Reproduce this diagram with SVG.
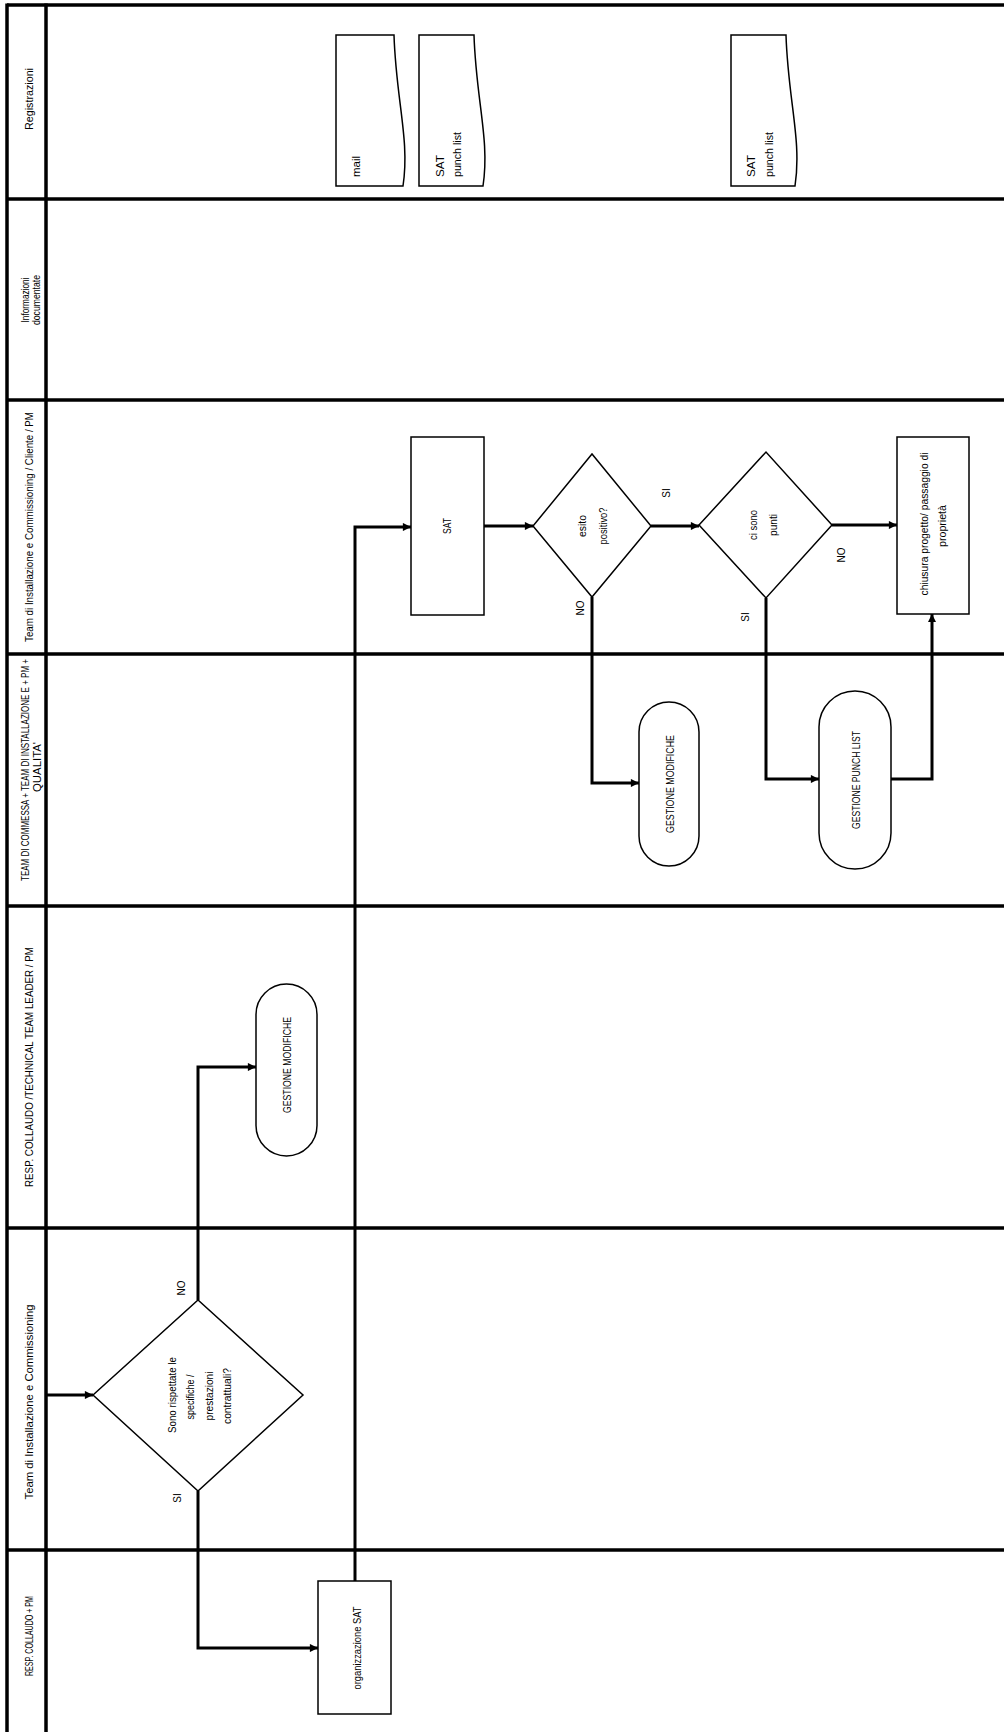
<svg xmlns="http://www.w3.org/2000/svg" width="1004" height="1732" viewBox="0 0 1004 1732">
<style>
text{font-family:"Liberation Sans",Arial,sans-serif;fill:#000;dominant-baseline:central}
.hd{font-size:10.5px;text-anchor:middle}
.nt{font-size:11px;text-anchor:middle}
.dt{font-size:11px;text-anchor:start}
.lb{font-size:10px;text-anchor:middle}
.lane{stroke:#000;stroke-width:3.5;fill:none}
.shape{fill:#fff;stroke:#000;stroke-width:1.5}
.conn{fill:none;stroke:#000;stroke-width:3}
</style>
<defs>
<marker id="ah" viewBox="0 0 10 10" refX="10" refY="5" markerWidth="3.5" markerHeight="2.7" orient="auto" markerUnits="strokeWidth">
<path d="M0,0 L10,5 L0,10 Z" fill="#000"/>
</marker>
</defs>
<rect width="1004" height="1732" fill="#fff"/>
<g id="lanes">
<line class="lane" x1="7" y1="5" x2="1004" y2="5"/>
<line class="lane" x1="7" y1="199" x2="1004" y2="199"/>
<line class="lane" x1="7" y1="400" x2="1004" y2="400"/>
<line class="lane" x1="7" y1="654" x2="1004" y2="654"/>
<line class="lane" x1="7" y1="906" x2="1004" y2="906"/>
<line class="lane" x1="7" y1="1228" x2="1004" y2="1228"/>
<line class="lane" x1="7" y1="1550" x2="1004" y2="1550"/>
<line class="lane" x1="7" y1="3.5" x2="7" y2="1732"/>
<line class="lane" x1="46" y1="3.5" x2="46" y2="1732"/>
</g>
<g id="headers">
<text class="hd" transform="translate(29,99) rotate(-90)" textLength="62" lengthAdjust="spacingAndGlyphs">Registrazioni</text>
<text class="hd" transform="translate(25,300) rotate(-90)" textLength="45" lengthAdjust="spacingAndGlyphs">Informazioni</text>
<text class="hd" transform="translate(36,300) rotate(-90)" textLength="50" lengthAdjust="spacingAndGlyphs">documentate</text>
<text class="hd" transform="translate(29,527) rotate(-90)" textLength="230" lengthAdjust="spacingAndGlyphs">Team di Installazione e Commissioning / Cliente / PM</text>
<text class="hd" transform="translate(25,770) rotate(-90)" textLength="222" lengthAdjust="spacingAndGlyphs">TEAM DI COMMESSA + TEAM DI INSTALLAZIONE E + PM +</text>
<text class="hd" transform="translate(37,767) rotate(-90)" textLength="50" lengthAdjust="spacingAndGlyphs">QUALITA'</text>
<text class="hd" transform="translate(29,1067) rotate(-90)" textLength="240" lengthAdjust="spacingAndGlyphs">RESP. COLLAUDO /TECHNICAL TEAM LEADER / PM</text>
<text class="hd" transform="translate(29,1402) rotate(-90)" textLength="195" lengthAdjust="spacingAndGlyphs">Team di Installazione e Commissioning</text>
<text class="hd" transform="translate(29,1636) rotate(-90)" textLength="80" lengthAdjust="spacingAndGlyphs">RESP. COLLAUDO + PM</text>
</g>
<g id="connectors">
<polyline class="conn" points="46,1395 93,1395" marker-end="url(#ah)"/>
<polyline class="conn" points="198,1300 198,1067 256,1067" marker-end="url(#ah)"/>
<polyline class="conn" points="198,1491 198,1648 318,1648" marker-end="url(#ah)"/>
<polyline class="conn" points="355,1581 355,527 411,527" marker-end="url(#ah)"/>
<polyline class="conn" points="484,526 533,526" marker-end="url(#ah)"/>
<polyline class="conn" points="651,526 699,526" marker-end="url(#ah)"/>
<polyline class="conn" points="832,525 897,525" marker-end="url(#ah)"/>
<polyline class="conn" points="592,597 592,783 639,783" marker-end="url(#ah)"/>
<polyline class="conn" points="766,598 766,779 819,779" marker-end="url(#ah)"/>
<polyline class="conn" points="891,779 932,779 932,614" marker-end="url(#ah)"/>
<text class="lb" transform="translate(181,1288) rotate(-90)">NO</text>
<text class="lb" transform="translate(177,1498) rotate(-90)">SI</text>
<text class="lb" transform="translate(666,493) rotate(-90)">SI</text>
<text class="lb" transform="translate(841,555) rotate(-90)">NO</text>
<text class="lb" transform="translate(580,608) rotate(-90)">NO</text>
<text class="lb" transform="translate(745,617) rotate(-90)">SI</text>
</g>
<g id="doc-mail">
<path class="shape" d="M336,35 H394 C396,100 410,140 403,186 H336 Z"/>
<text class="dt" transform="translate(356,177) rotate(-90)" textLength="21" lengthAdjust="spacingAndGlyphs">mail</text>
</g>
<g id="doc-sat1">
<path class="shape" d="M419,35 H474 C476,100 490,140 483,186 H419 Z"/>
<text class="dt" transform="translate(440,177) rotate(-90)" textLength="22" lengthAdjust="spacingAndGlyphs">SAT</text>
<text class="dt" transform="translate(457,177) rotate(-90)" textLength="45" lengthAdjust="spacingAndGlyphs">punch list</text>
</g>
<g id="doc-sat2">
<path class="shape" d="M731,35 H786 C788,100 802,140 795,186 H731 Z"/>
<text class="dt" transform="translate(751,177) rotate(-90)" textLength="22" lengthAdjust="spacingAndGlyphs">SAT</text>
<text class="dt" transform="translate(769,177) rotate(-90)" textLength="45" lengthAdjust="spacingAndGlyphs">punch list</text>
</g>
<g id="sat">
<rect class="shape" x="411" y="437" width="73" height="178"/>
<text class="nt" transform="translate(447,526) rotate(-90)" textLength="16" lengthAdjust="spacingAndGlyphs">SAT</text>
</g>
<g id="esito">
<polygon class="shape" points="533,526 592,454 651,526 592,597"/>
<text class="nt" transform="translate(582,526) rotate(-90)" textLength="22" lengthAdjust="spacingAndGlyphs">esito</text>
<text class="nt" transform="translate(603,526) rotate(-90)" textLength="37" lengthAdjust="spacingAndGlyphs">positivo?</text>
</g>
<g id="cisono">
<polygon class="shape" points="699,525 766,452 832,525 766,598"/>
<text class="nt" transform="translate(753,525) rotate(-90)" textLength="30" lengthAdjust="spacingAndGlyphs">ci sono</text>
<text class="nt" transform="translate(773,525) rotate(-90)" textLength="22" lengthAdjust="spacingAndGlyphs">punti</text>
</g>
<g id="chiusura">
<rect class="shape" x="897" y="437" width="72" height="177"/>
<text class="nt" transform="translate(924,524) rotate(-90)" textLength="143" lengthAdjust="spacingAndGlyphs">chiusura progetto/ passaggio di</text>
<text class="nt" transform="translate(942,526) rotate(-90)" textLength="42" lengthAdjust="spacingAndGlyphs">proprietà</text>
</g>
<g id="gestione-modifiche-1">
<rect class="shape" x="639" y="702" width="60" height="164" rx="30" ry="30"/>
<text class="nt" transform="translate(670,784) rotate(-90)" textLength="98" lengthAdjust="spacingAndGlyphs">GESTIONE MODIFICHE</text>
</g>
<g id="gestione-punch-list">
<rect class="shape" x="819" y="691" width="72" height="178" rx="36" ry="36"/>
<text class="nt" transform="translate(856,780) rotate(-90)" textLength="98" lengthAdjust="spacingAndGlyphs">GESTIONE PUNCH LIST</text>
</g>
<g id="gestione-modifiche-2">
<rect class="shape" x="256" y="984" width="61" height="172" rx="30.5" ry="30.5"/>
<text class="nt" transform="translate(287,1065) rotate(-90)" textLength="96" lengthAdjust="spacingAndGlyphs">GESTIONE MODIFICHE</text>
</g>
<g id="decisione-specifiche">
<polygon class="shape" points="93,1395 198,1300 303,1395 198,1491"/>
<text class="nt" transform="translate(172,1395) rotate(-90)" textLength="76" lengthAdjust="spacingAndGlyphs">Sono rispettate le</text>
<text class="nt" transform="translate(190,1397) rotate(-90)" textLength="45" lengthAdjust="spacingAndGlyphs">specifiche /</text>
<text class="nt" transform="translate(209,1396) rotate(-90)" textLength="49" lengthAdjust="spacingAndGlyphs">prestazioni</text>
<text class="nt" transform="translate(227,1396) rotate(-90)" textLength="56" lengthAdjust="spacingAndGlyphs">contrattuali?</text>
</g>
<g id="organizzazione-sat">
<rect class="shape" x="318" y="1581" width="73" height="133"/>
<text class="nt" transform="translate(357,1648) rotate(-90)" textLength="83" lengthAdjust="spacingAndGlyphs">organizzazione SAT</text>
</g>
</svg>
